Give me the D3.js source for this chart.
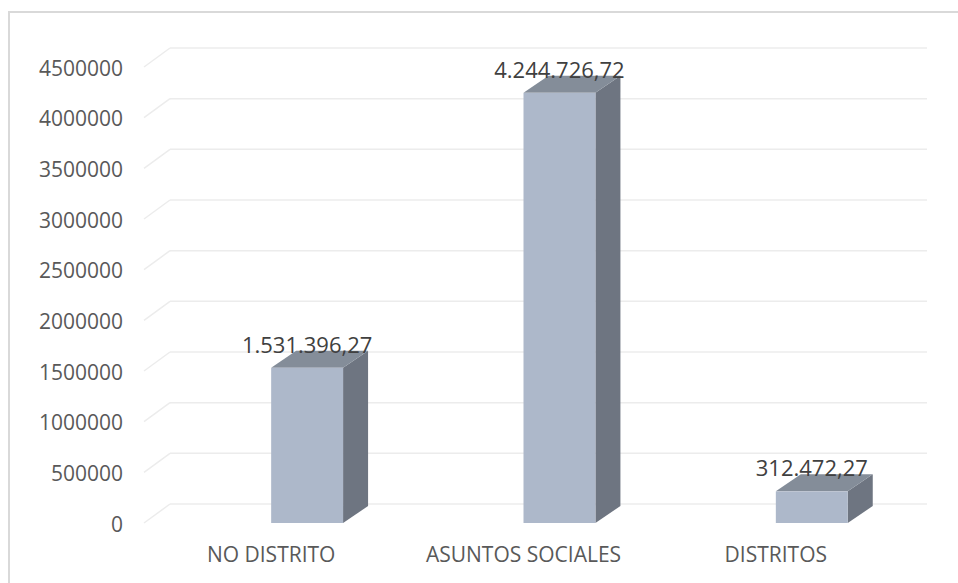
<!DOCTYPE html>
<html lang="es">
<head>
    <meta charset="UTF-8" />
    <title>Gasto por área</title>
    <script src="https://d3js.org/d3.v7.min.js"></script>
    <style>
        body {
            margin: 0;
            background: #fff;
        }
        svg {
            display: block;
            font-family: "Open Sans", sans-serif;
        }
        .grid line {
            stroke: #ececec;
            stroke-width: 1.5px;
        }
        .tick-label {
            font-size: 21px;
            fill: #595959;
        }
        .value-label {
            font-size: 22px;
            fill: #404040;
        }
    </style>
</head>
<body>
    <svg id="chart"></svg>

    <script>
        const categories = ["NO DISTRITO", "ASUNTOS SOCIALES", "DISTRITOS"];
        const values = [1531396.27, 4244726.72, 312472.27];
        const valueLabels = ["1.531.396,27", "4.244.726,72", "312.472,27"];
        const yTicks = [0, 500000, 1000000, 1500000, 2000000, 2500000, 3000000, 3500000, 4000000, 4500000];

        const width = 958;
        const height = 583;

        // depth offset of back wall and of the bars
        const wall = { dx: 26, dy: -19 };
        const depth = { dx: 25, dy: -17 };

        const svg = d3.select("#chart")
            .attr("width", width)
            .attr("height", height);

        // chart area border (runs off the right/bottom of the picture)
        svg.append("rect")
            .attr("x", 9)
            .attr("y", 12)
            .attr("width", 1000)
            .attr("height", 700)
            .attr("fill", "none")
            .attr("stroke", "#d9d9d9")
            .attr("stroke-width", 2);

        const y = d3.scaleLinear()
            .domain([0, 4500000])
            .range([523, 67]);

        const x = d3.scaleBand()
            .domain(categories)
            .range([144, 901]);

        // gridlines on the back wall plus the left-side diagonals
        const grid = svg.append("g").attr("class", "grid");
        grid.selectAll("line.h")
            .data(yTicks)
            .enter().append("line")
            .attr("class", "h")
            .attr("x1", 144 + wall.dx)
            .attr("x2", 901 + wall.dx)
            .attr("y1", d => y(d) + wall.dy)
            .attr("y2", d => y(d) + wall.dy);
        grid.selectAll("line.d")
            .data(yTicks)
            .enter().append("line")
            .attr("class", "d")
            .attr("x1", 144)
            .attr("x2", 144 + wall.dx)
            .attr("y1", d => y(d))
            .attr("y2", d => y(d) + wall.dy);

        // y axis labels
        svg.append("g")
            .selectAll("text")
            .data(yTicks)
            .enter().append("text")
            .attr("class", "tick-label")
            .attr("x", 123)
            .attr("y", d => y(d) + 1)
            .attr("dy", "0.36em")
            .attr("text-anchor", "end")
            .text(d => d);

        // x axis labels
        svg.append("g")
            .selectAll("text")
            .data(categories)
            .enter().append("text")
            .attr("class", "tick-label")
            .attr("x", d => x(d) + x.bandwidth() / 2 + 1)
            .attr("y", 554)
            .attr("dy", "0.36em")
            .attr("text-anchor", "middle")
            .text(d => d);

        // 3D bars
        const barW = x.bandwidth() * 0.285;
        const bars = categories.map((c, i) => ({
            x0: x(c) + x.bandwidth() / 2 + 1,
            top: y(values[i]),
            base: y(0),
            label: valueLabels[i]
        }));

        const bar = svg.append("g")
            .selectAll("g")
            .data(bars)
            .enter().append("g");

        // side face
        bar.append("polygon")
            .attr("fill", "#6e7581")
            .attr("points", d => [
                [d.x0 + barW, d.base],
                [d.x0 + barW + depth.dx, d.base + depth.dy],
                [d.x0 + barW + depth.dx, d.top + depth.dy],
                [d.x0 + barW, d.top]
            ].join(" "));

        // top face
        bar.append("polygon")
            .attr("fill", "#848d99")
            .attr("points", d => [
                [d.x0, d.top],
                [d.x0 + depth.dx, d.top + depth.dy],
                [d.x0 + barW + depth.dx, d.top + depth.dy],
                [d.x0 + barW, d.top]
            ].join(" "));

        // front face
        bar.append("rect")
            .attr("fill", "#adb8ca")
            .attr("x", d => d.x0)
            .attr("y", d => d.top)
            .attr("width", barW)
            .attr("height", d => d.base - d.top);

        // value labels
        bar.append("text")
            .attr("class", "value-label")
            .attr("x", d => d.x0 + barW / 2)
            .attr("y", d => d.top + depth.dy + 2)
            .attr("text-anchor", "middle")
            .text(d => d.label);
    </script>
</body>
</html>
